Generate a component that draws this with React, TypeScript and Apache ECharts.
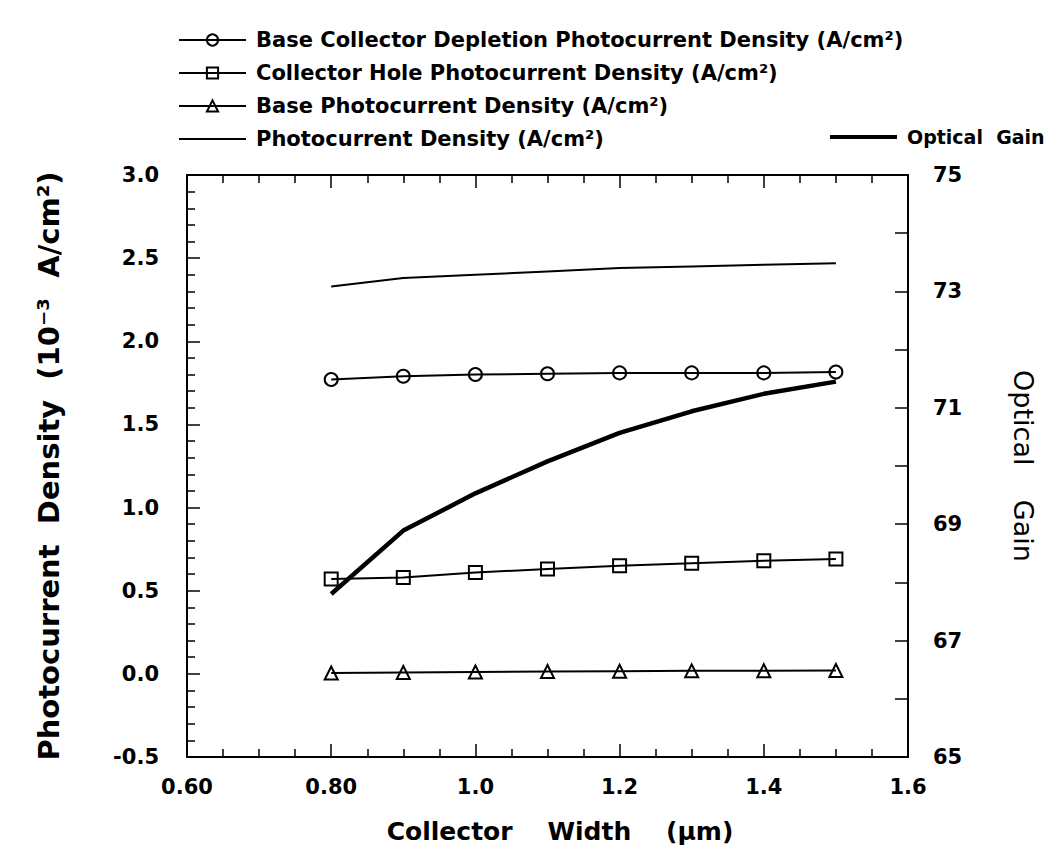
import React, { useEffect, useRef } from 'react';
import * as echarts from 'echarts';

const FONT = '"DejaVu Sans", "Liberation Sans", Arial, sans-serif';

// Collector width (µm)
const xValues = [0.8, 0.9, 1.0, 1.1, 1.2, 1.3, 1.4, 1.5];
// Photocurrent densities (10^-3 A/cm^2)
const depletion = [1.77, 1.79, 1.8, 1.805, 1.81, 1.81, 1.81, 1.815];
const holeCollector = [0.57, 0.58, 0.61, 0.63, 0.65, 0.665, 0.68, 0.69];
const basePhoto = [0.005, 0.008, 0.011, 0.014, 0.016, 0.018, 0.019, 0.02];
const totalPhoto = [2.33, 2.38, 2.4, 2.42, 2.44, 2.45, 2.46, 2.47];
// Optical gain (right axis)
const opticalGain = [67.8, 68.89, 69.53, 70.08, 70.57, 70.94, 71.24, 71.45];

const seriesNames = [
  'Base Collector Depletion Photocurrent Density (A/cm²)',
  'Collector Hole Photocurrent Density (A/cm²)',
  'Base Photocurrent Density (A/cm²)',
  'Photocurrent Density (A/cm²)',
];
const gainName = 'Optical  Gain';

const pairs = (ys: number[]) => xValues.map((x, i) => [x, ys[i]]);

const markerSeries = (name: string, ys: number[], symbol: string) => ({
  name,
  type: 'line',
  xAxisIndex: 0,
  yAxisIndex: 0,
  data: pairs(ys),
  symbol,
  symbolSize: 13,
  showSymbol: true,
  lineStyle: { color: '#000', width: 2 },
  itemStyle: { color: 'transparent', borderColor: '#000', borderWidth: 2 },
  emphasis: { disabled: true },
  z: 3,
});

const plainSeries = (name: string, ys: number[], yAxisIndex: number, width: number) => ({
  name,
  type: 'line',
  xAxisIndex: 0,
  yAxisIndex,
  data: pairs(ys),
  symbol: 'circle',
  showSymbol: false,
  lineStyle: { color: '#000', width },
  itemStyle: { color: 'transparent', borderWidth: 0 },
  emphasis: { disabled: true },
  z: 4,
});

const axisLine = { show: true, onZero: false, lineStyle: { color: '#000', width: 2 } };
const tick = { show: true, inside: true, length: 13, lineStyle: { color: '#000', width: 1.5 } };
const labelFont = { fontFamily: FONT, fontWeight: 'bold', fontSize: 21, color: '#000' };

const option: any = {
  animation: false,
  backgroundColor: '#fff',
  textStyle: { fontFamily: FONT, color: '#000' },
  grid: { left: 187, top: 175, width: 721, height: 583, containLabel: false },
  legend: [
    {
      data: seriesNames,
      orient: 'vertical',
      left: 173,
      top: 23,
      itemWidth: 67,
      itemHeight: 14,
      itemGap: 9,
      selectedMode: false,
      textStyle: { fontFamily: FONT, fontWeight: 'bold', fontSize: 21, color: '#000', lineHeight: 24, padding: [0, 0, 0, 5] },
    },
    {
      data: [gainName],
      orient: 'vertical',
      left: 823,
      top: 120,
      itemWidth: 67,
      itemHeight: 14,
      selectedMode: false,
      lineStyle: { width: 4 },
      textStyle: { fontFamily: FONT, fontWeight: 'bold', fontSize: 19, color: '#000', lineHeight: 24, padding: [0, 0, 0, 5] },
    },
  ],
  xAxis: [
    {
      type: 'value',
      position: 'bottom',
      min: 0.6,
      max: 1.6,
      interval: 0.2,
      name: 'Collector    Width    (µm)',
      nameLocation: 'middle',
      nameGap: 62,
      nameTextStyle: { fontFamily: FONT, fontWeight: 'bold', fontSize: 25, color: '#000', padding: [0, 0, 0, 25] },
      axisLine,
      axisTick: tick,
      minorTick: { show: true, splitNumber: 4, length: 8, lineStyle: { color: '#000', width: 1.5 } },
      splitLine: { show: false },
      axisLabel: {
        margin: 19,
        ...labelFont,
        formatter: (v: number) => (v < 0.9 ? v.toFixed(2) : v.toFixed(1)),
      },
    },
    {
      type: 'value',
      position: 'top',
      min: 0.6,
      max: 1.6,
      interval: 0.2,
      axisLine,
      axisTick: tick,
      minorTick: { show: true, splitNumber: 4, length: 8, lineStyle: { color: '#000', width: 1.5 } },
      splitLine: { show: false },
      axisLabel: { show: false },
    },
  ],
  yAxis: [
    {
      type: 'value',
      position: 'left',
      min: -0.5,
      max: 3.0,
      interval: 0.5,
      name: 'Photocurrent  Density  (10⁻³  A/cm²)',
      nameLocation: 'middle',
      nameGap: 124,
      nameTextStyle: { fontFamily: FONT, fontWeight: 'bold', fontSize: 29, color: '#000' },
      axisLine,
      axisTick: tick,
      minorTick: { show: true, splitNumber: 5, length: 8, lineStyle: { color: '#000', width: 1.5 } },
      splitLine: { show: false },
      axisLabel: {
        margin: 28,
        ...labelFont,
        formatter: (v: number) => v.toFixed(1),
      },
    },
    {
      type: 'value',
      position: 'right',
      min: 65,
      max: 75,
      interval: 1,
      name: 'Optical    Gain',
      nameLocation: 'middle',
      nameRotate: -90,
      nameGap: 102,
      nameTextStyle: { fontFamily: FONT, fontWeight: 'normal', fontSize: 27, color: '#000' },
      axisLine,
      axisTick: tick,
      splitLine: { show: false },
      axisLabel: {
        margin: 25,
        ...labelFont,
        formatter: (v: number) => {
          const r = Math.round(v);
          return r % 2 === 1 ? String(r) : '';
        },
      },
    },
  ],
  series: [
    markerSeries(seriesNames[0], depletion, 'circle'),
    markerSeries(seriesNames[1], holeCollector, 'rect'),
    markerSeries(seriesNames[2], basePhoto, 'triangle'),
    plainSeries(seriesNames[3], totalPhoto, 0, 2),
    plainSeries(gainName, opticalGain, 1, 4.5),
  ],
};

export default function App() {
  const ref = useRef<HTMLDivElement>(null);
  useEffect(() => {
    if (!ref.current) return;
    const chart = echarts.init(ref.current, null, { renderer: 'svg' });
    chart.setOption(option);
    return () => chart.dispose();
  }, []);
  return (
    <div
      ref={ref}
      style={{ position: 'absolute', left: 0, top: 0, width: 1050, height: 849, background: '#fff' }}
    />
  );
}
